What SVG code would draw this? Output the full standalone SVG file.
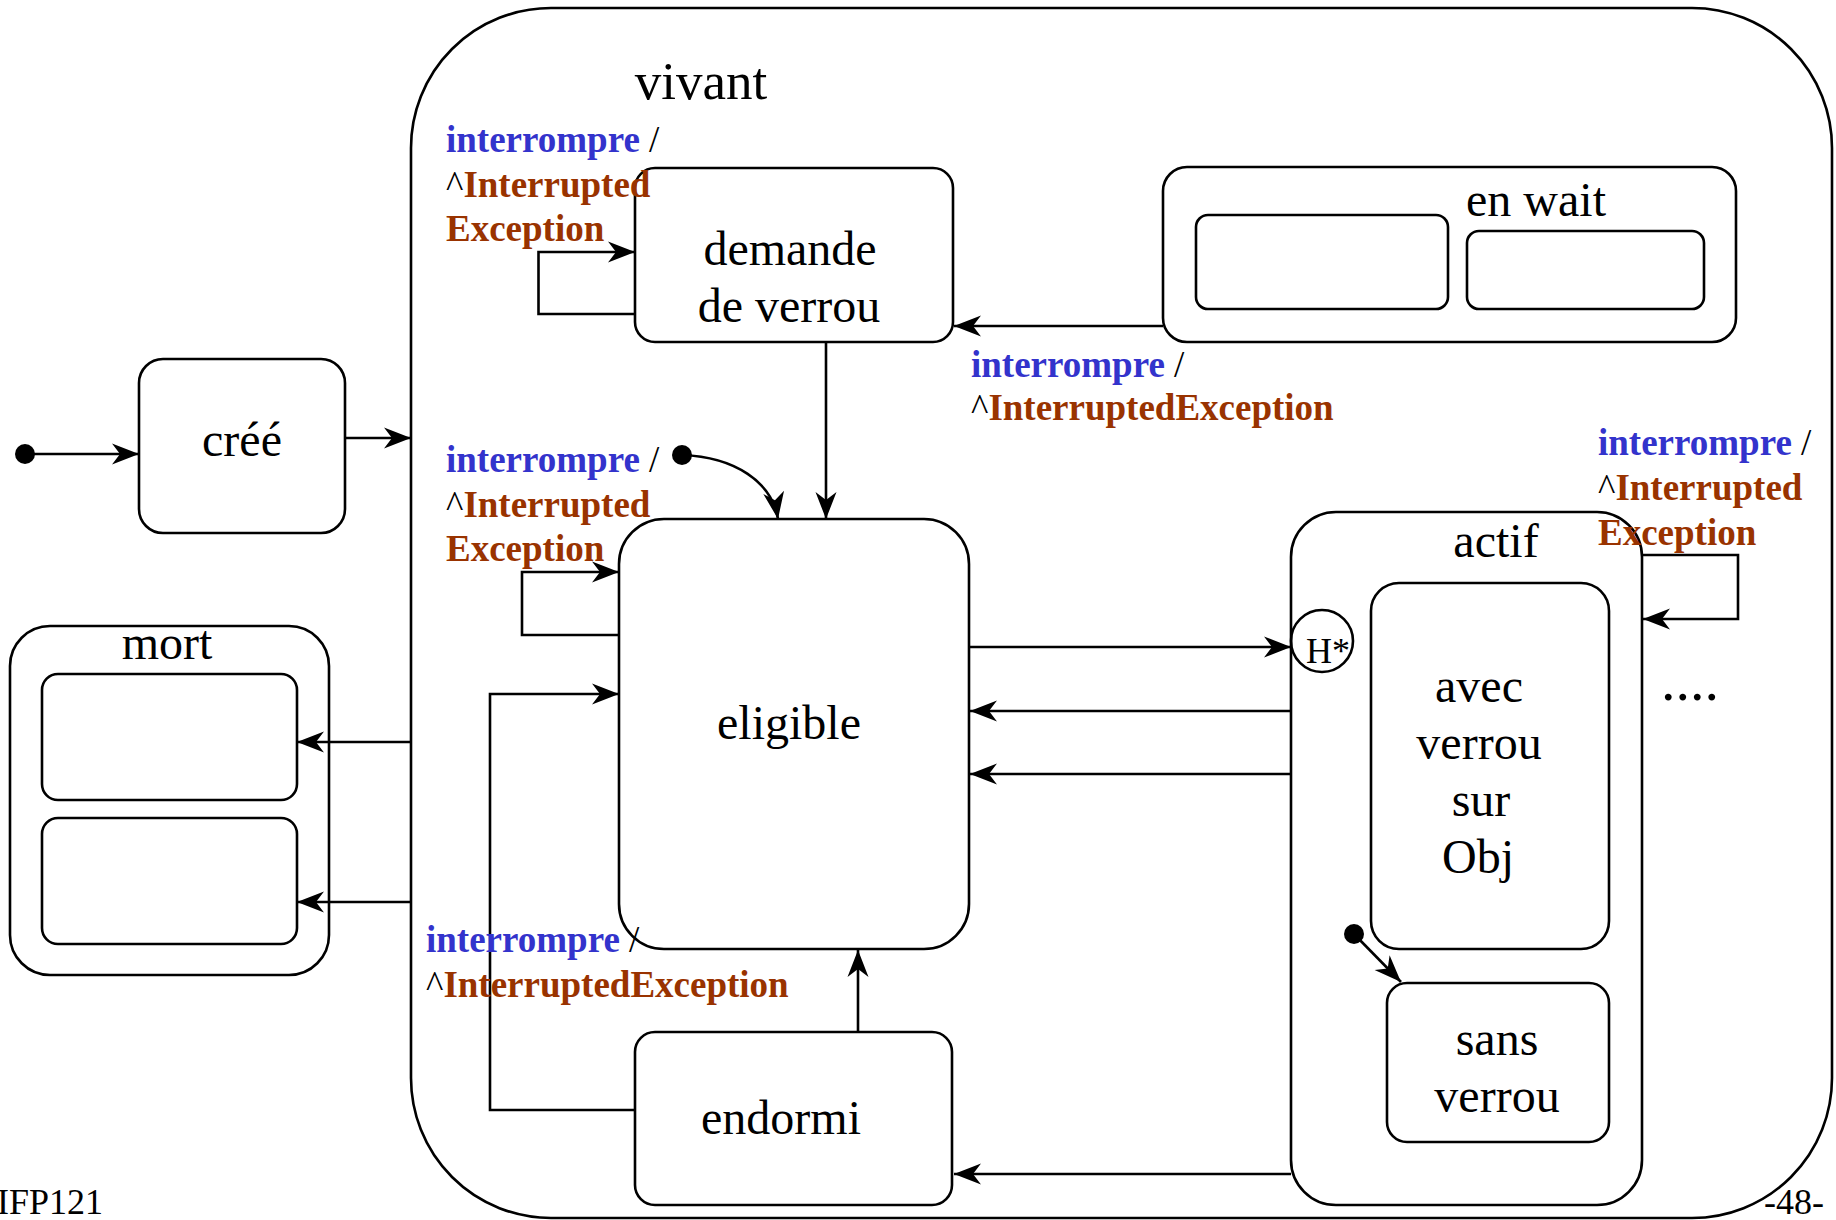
<svg xmlns="http://www.w3.org/2000/svg" width="1836" height="1220" viewBox="0 0 1836 1220">
<style>
.box{fill:none;stroke:#000;stroke-width:2.6}
.ln{fill:none;stroke:#000;stroke-width:2.6}
.arr{marker-end:url(#ah)}
.nt{font-family:"Liberation Serif","Times New Roman",serif;font-size:48px;fill:#000;text-anchor:middle}
.lb{font-family:"Liberation Serif","Times New Roman",serif;font-size:37px;fill:#000}
.ev{fill:#3333cc;font-weight:bold}
.ex{fill:#993300;font-weight:bold}
.dot{fill:#000}
</style>
<defs>
<marker id="ah" markerUnits="userSpaceOnUse" viewBox="-28 -12 30 24" refX="0" refY="0" markerWidth="30" markerHeight="24" orient="auto">
<path d="M0,0 L-27,-10.5 L-19,0 L-27,10.5 Z" fill="#000"/>
</marker>
</defs>
<rect width="1836" height="1220" fill="#fff"/>

<g id="vivant">
<rect class="box" x="411" y="8" width="1421" height="1210" rx="140"/>
<text class="nt" x="701" y="99" style="font-size:53px">vivant</text>
</g>

<g id="cree">
<rect class="box" x="139" y="359" width="206" height="174" rx="24"/>
<text class="nt" x="242" y="456">créé</text>
</g>

<g id="mort">
<rect class="box" x="10" y="626" width="319" height="349" rx="40"/>
<text class="nt" x="167" y="659">mort</text>
<rect class="box" x="42" y="674" width="255" height="126" rx="16"/>
<rect class="box" x="42" y="818" width="255" height="126" rx="16"/>
</g>

<g id="demande">
<rect class="box" x="635" y="168" width="318" height="174" rx="20"/>
<text class="nt" x="790" y="265">demande</text>
<text class="nt" x="789" y="322">de verrou</text>
</g>

<g id="enwait">
<rect class="box" x="1163" y="167" width="573" height="175" rx="24"/>
<text class="nt" x="1536" y="216">en wait</text>
<rect class="box" x="1196" y="215" width="252" height="94" rx="12"/>
<rect class="box" x="1467" y="231" width="237" height="78" rx="12"/>
</g>

<g id="eligible">
<rect class="box" x="619" y="519" width="350" height="430" rx="45"/>
<text class="nt" x="789" y="739">eligible</text>
</g>

<g id="endormi">
<rect class="box" x="635" y="1032" width="317" height="173" rx="20"/>
<text class="nt" x="781" y="1134">endormi</text>
</g>

<g id="actif">
<rect class="box" x="1291" y="512" width="351" height="693" rx="45"/>
<text class="nt" x="1496" y="557">actif</text>
</g>

<g id="histoire">
<circle class="box" cx="1322" cy="641" r="31"/>
<text class="nt" x="1328" y="663" style="font-size:36px">H*</text>
</g>

<g id="avecverrou">
<rect class="box" x="1371" y="583" width="238" height="366" rx="28"/>
<text class="nt" x="1479" y="702">avec</text>
<text class="nt" x="1479" y="759">verrou</text>
<text class="nt" x="1481" y="816">sur</text>
<text class="nt" x="1478" y="873">Obj</text>
</g>

<g id="sansverrou">
<rect class="box" x="1387" y="983" width="222" height="159" rx="20"/>
<text class="nt" x="1497" y="1055">sans</text>
<text class="nt" x="1497" y="1112">verrou</text>
</g>

<g id="connectors">
<circle class="dot" cx="25" cy="454" r="10"/>
<path class="ln arr" d="M25,454 H139"/>
<path class="ln arr" d="M345,438 H411"/>
<path class="ln arr" d="M411,742 H297"/>
<path class="ln arr" d="M411,902 H297"/>
<path class="ln arr" d="M635,314 H538.5 V252 H635"/>
<path class="ln arr" d="M1163,326 H954"/>
<path class="ln arr" d="M826,342 V519"/>
<circle class="dot" cx="682" cy="455" r="10"/>
<path class="ln arr" d="M682,455 C735,457 772,482 778,519"/>
<path class="ln arr" d="M619,635 H522 V572 H619"/>
<path class="ln arr" d="M635,1110 H490 V694 H619"/>
<path class="ln arr" d="M858,1032 V950"/>
<path class="ln arr" d="M969,647 H1291"/>
<path class="ln arr" d="M1291,711 H970"/>
<path class="ln arr" d="M1291,774 H970"/>
<path class="ln arr" d="M1291,1174 H954"/>
<path class="ln arr" d="M1642,555 H1738 V619 H1643"/>
<circle class="dot" cx="1354" cy="934" r="10"/>
<path class="ln arr" d="M1354,934 L1401,982"/>
</g>

<g id="labels">
<text class="lb" x="446" y="152"><tspan class="ev">interrompre</tspan> /</text>
<text class="lb" x="446" y="197">^<tspan class="ex">Interrupted</tspan></text>
<text class="lb ex" x="446" y="241">Exception</text>

<text class="lb" x="971" y="377"><tspan class="ev">interrompre</tspan> /</text>
<text class="lb" x="971" y="420">^<tspan class="ex">InterruptedException</tspan></text>

<text class="lb" x="446" y="472"><tspan class="ev">interrompre</tspan> /</text>
<text class="lb" x="446" y="517">^<tspan class="ex">Interrupted</tspan></text>
<text class="lb ex" x="446" y="561">Exception</text>

<text class="lb" x="426" y="952"><tspan class="ev">interrompre</tspan> /</text>
<text class="lb" x="426" y="997">^<tspan class="ex">InterruptedException</tspan></text>

<text class="lb" x="1598" y="455"><tspan class="ev">interrompre</tspan> /</text>
<text class="lb" x="1598" y="500">^<tspan class="ex">Interrupted</tspan></text>
<text class="lb ex" x="1598" y="545">Exception</text>

<text class="nt" x="1690" y="700" style="font-size:58px">....</text>
<text class="lb" x="-3" y="1214" style="font-size:36px">IFP121</text>
<text class="lb" x="1764" y="1214" style="font-size:36px">-48-</text>
</g>
</svg>
